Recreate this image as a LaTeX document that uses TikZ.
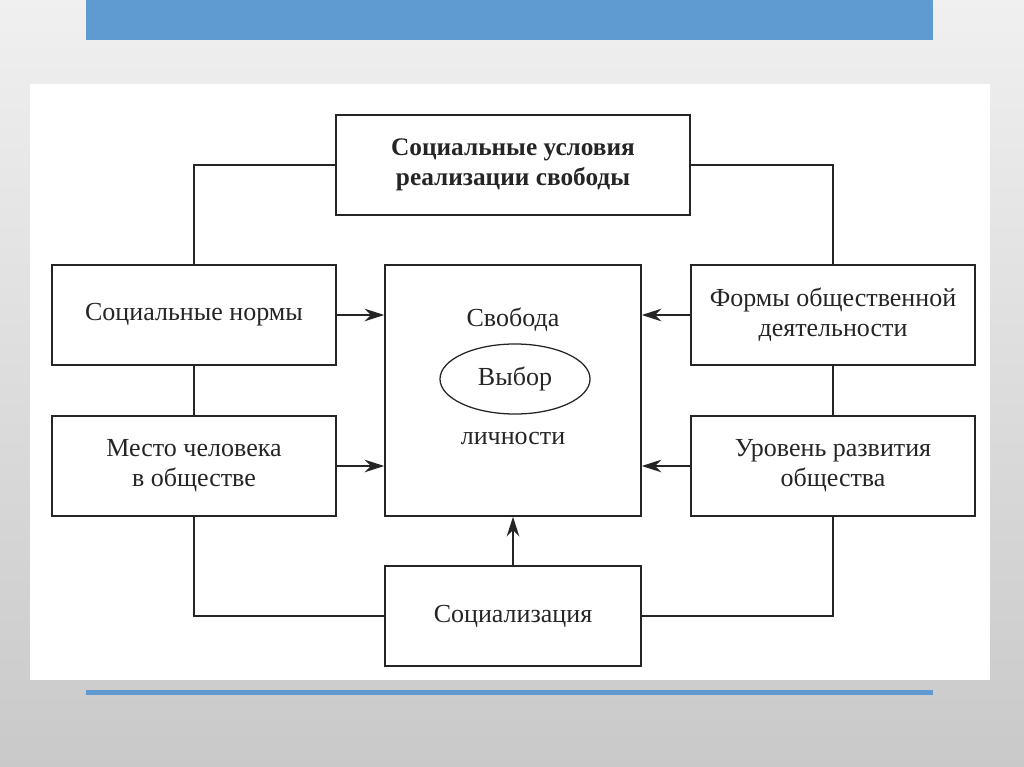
\documentclass[tikz,border=0pt]{standalone}
\usepackage{fontspec}
\setmainfont{Liberation Serif}
\usepackage{xcolor}
\usetikzlibrary{arrows.meta,shapes.geometric}
\definecolor{slidetop}{HTML}{F0F0F0}
\definecolor{slidebot}{HTML}{C9C9C9}
\definecolor{barblue}{HTML}{5F9BD0}
\definecolor{ink}{HTML}{252525}
\tikzset{
  box/.style={draw=ink, line width=1.1pt, fill=white, minimum width=7.1cm, minimum height=2.5cm, align=center, font=\fontsize{18.5}{21.5}\selectfont, text=ink},
  link/.style={draw=ink, line width=0.9pt},
  push/.style={link, -{Stealth[length=14pt,width=9pt]}},
  lab/.style={text=ink, font=\fontsize{18.5}{21.5}\selectfont}
}
\begin{document}
\begin{tikzpicture}[x=0.025cm, y=-0.025cm]
  \useasboundingbox (0,0) rectangle (1024,767);
  \shade[top color=slidetop, bottom color=slidebot] (0,0) rectangle (1024,767);
  \fill[barblue] (86,0) rectangle (933,40);
  \fill[white] (30,84) rectangle (990,680);
  \fill[barblue] (86,690) rectangle (933,695);

  % boxes
  \node[box, minimum width=8.85cm, font=\fontsize{18}{21.5}\selectfont\bfseries] (cond) at (513,165) {Социальные условия\\реализации свободы};
  \node[box] (norms) at (194,315) {Социальные нормы};
  \node[box] (place) at (194,466) {Место человека\\в обществе};
  \node[box] (forms) at (833,315) {Формы общественной\\деятельности};
  \node[box] (level) at (833,466) {Уровень развития\\общества};
  \node[box, minimum width=6.4cm] (soc) at (513,616) {Социализация};
  \node[box, minimum width=6.4cm, minimum height=6.275cm] (free) at (513,390.5) {};

  % inside the centre box
  \node[lab] (svob) at (513,320) {Свобода};
  \node[draw=ink, line width=0.9pt, ellipse, minimum width=3.75cm, minimum height=1.75cm, lab] (choice) at (515,379) {Выбор};
  \node[lab] (lich) at (513,438) {личности};

  % frame lines
  \draw[link] (cond.west) -| (norms.north);
  \draw[link] (norms.south) -- (place.north);
  \draw[link] (place.south) |- (soc.west);
  \draw[link] (cond.east) -| (forms.north);
  \draw[link] (forms.south) -- (level.north);
  \draw[link] (level.south) |- (soc.east);

  % arrows into the centre
  \draw[push] (norms.east) -- (free.west |- norms.east);
  \draw[push] (place.east) -- (free.west |- place.east);
  \draw[push] (forms.west) -- (free.east |- forms.west);
  \draw[push] (level.west) -- (free.east |- level.west);
  \draw[push] (soc.north) -- (free.south);
\end{tikzpicture}
\end{document}
